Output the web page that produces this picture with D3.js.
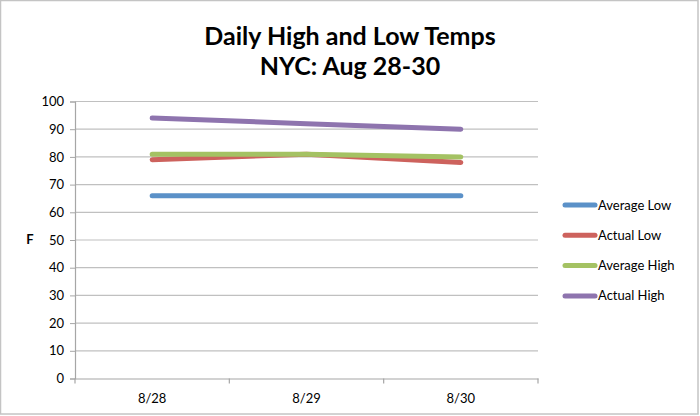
<!DOCTYPE html>
<html lang="en">
<head>
  <meta charset="UTF-8">
  <title>Daily High and Low Temps</title>
  <script src="https://d3js.org/d3.v7.min.js"></script>
  <style>
    body { margin: 0; background: #fff; }
    svg text { font-family: Lato, "Open Sans", "Liberation Sans", sans-serif; fill: #000; }
  </style>
</head>
<body>
  <div id="chart"></div>
  <script>
    var days = ["8/28", "8/29", "8/30"];
    var seriesNames = ["Average Low", "Actual Low", "Average High", "Actual High"];
    var averageLow = [66, 66, 66];
    var actualLow = [79, 81, 78];
    var averageHigh = [81, 81, 80];
    var actualHigh = [94, 92, 90];
    var yTicks = [0, 10, 20, 30, 40, 50, 60, 70, 80, 90, 100];
    var colors = ["#5b91c8", "#cd625d", "#a4c263", "#8e74ae"];

    var series = [averageLow, actualLow, averageHigh, actualHigh];

    var width = 700, height = 416;
    var plotLeft = 75, plotRight = 538, plotTop = 101.5, plotBottom = 378.5;

    var svg = d3.select("#chart").append("svg")
      .attr("width", width)
      .attr("height", height);

    // outer frame
    svg.append("rect")
      .attr("x", 0.5).attr("y", 0.5)
      .attr("width", 697.5).attr("height", 413.5)
      .attr("fill", "none")
      .attr("stroke", "#c4c4c4")
      .attr("stroke-width", 1.5);

    var x = d3.scaleBand().domain(days).range([plotLeft, plotRight]);
    var y = d3.scaleLinear().domain([0, 100]).range([plotBottom, plotTop]);

    // gridlines
    svg.append("g")
      .selectAll("line")
      .data(yTicks.slice(1))
      .join("line")
      .attr("x1", plotLeft).attr("x2", plotRight)
      .attr("y1", function (d) { return y(d); })
      .attr("y2", function (d) { return y(d); })
      .attr("stroke", "#c0c0c0")
      .attr("stroke-width", 1.2);

    // y axis
    var yAxis = svg.append("g")
      .attr("transform", "translate(" + plotLeft + ",0)")
      .call(d3.axisLeft(y).tickValues(yTicks).tickSize(5).tickPadding(6));
    yAxis.select(".domain").attr("stroke", "#a6a6a6").attr("stroke-width", 1.2);
    yAxis.selectAll(".tick line").attr("stroke", "#a6a6a6");
    yAxis.selectAll(".tick text").style("font-size", "13px").attr("fill", "#000");

    // x axis
    var xAxis = svg.append("g")
      .attr("transform", "translate(0," + plotBottom + ")")
      .call(d3.axisBottom(x).tickSize(0).tickPadding(15));
    xAxis.select(".domain").attr("stroke", "#a6a6a6").attr("stroke-width", 1.2);
    xAxis.selectAll(".tick text").style("font-size", "13px").attr("fill", "#000");

    // band boundary ticks
    var bounds = days.map(function (d) { return x(d); }).concat([x(days[days.length - 1]) + x.bandwidth()]);
    svg.append("g")
      .selectAll("line")
      .data(bounds)
      .join("line")
      .attr("x1", function (d) { return d; })
      .attr("x2", function (d) { return d; })
      .attr("y1", plotBottom)
      .attr("y2", plotBottom + 5)
      .attr("stroke", "#a6a6a6")
      .attr("stroke-width", 1.2);

    // series lines
    var line = d3.line()
      .x(function (d, i) { return x(days[i]) + x.bandwidth() / 2; })
      .y(function (d) { return y(d); });

    svg.append("g")
      .selectAll("path")
      .data(series)
      .join("path")
      .attr("d", line)
      .attr("fill", "none")
      .attr("stroke", function (d, i) { return colors[i]; })
      .attr("stroke-width", 5)
      .attr("stroke-linecap", "round")
      .attr("stroke-linejoin", "round");

    // y axis title
    svg.append("text")
      .attr("x", 30).attr("y", 244)
      .attr("text-anchor", "middle")
      .style("font-size", "13px")
      .style("font-weight", "bold")
      .text("F");

    // title
    var title = svg.append("text")
      .attr("text-anchor", "middle")
      .style("font-size", "25px")
      .style("font-weight", "bold");
    title.append("tspan").attr("x", 350).attr("y", 45).text("Daily High and Low Temps");
    title.append("tspan").attr("x", 350).attr("y", 75).text("NYC: Aug 28-30");

    // legend
    var legend = svg.append("g")
      .selectAll("g")
      .data(seriesNames)
      .join("g")
      .attr("transform", function (d, i) { return "translate(565," + (205 + i * 30.3) + ")"; });
    legend.append("line")
      .attr("x1", 0).attr("x2", 30)
      .attr("stroke", function (d, i) { return colors[i]; })
      .attr("stroke-width", 5)
      .attr("stroke-linecap", "round");
    legend.append("text")
      .attr("x", 33).attr("y", 4.5)
      .style("font-size", "13px")
      .text(function (d) { return d; });
  </script>
</body>
</html>
